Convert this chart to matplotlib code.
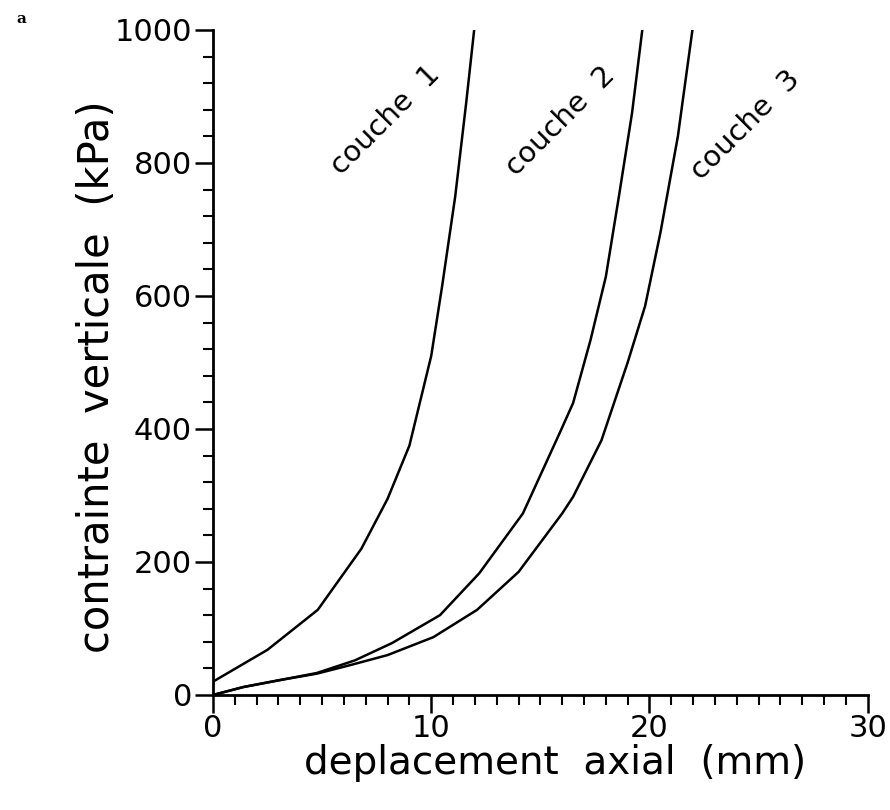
import matplotlib.pyplot as plt
from matplotlib.ticker import MultipleLocator

# deplacement axial (mm) / contrainte verticale (kPa)
X1 = [0, 2.5, 4.8, 6.8, 8.0, 9.0, 10.0, 10.5, 11.1, 11.6, 12.0]
Y1 = [20, 68, 128, 220, 295, 375, 510, 615, 750, 890, 1010]

X2 = [0, 1.4, 3.0, 4.75, 6.5, 8.2, 10.4, 12.2, 14.2, 15.9, 16.5, 17.3, 18.0, 18.6, 19.2, 19.7]
Y2 = [0, 12, 22, 33, 52, 78, 120, 183, 273, 395, 439, 534, 629, 750, 875, 1008]

X3 = [0, 1.4, 3.0, 4.75, 6.3, 8.0, 10.1, 12.1, 14.0, 16.0, 16.5, 17.8, 19.0, 19.8, 20.5, 21.3, 22.0]
Y3 = [0, 12, 22, 32, 45, 60, 87, 128, 185, 273, 298, 383, 500, 585, 695, 840, 1008]

LABELS = ["couche  1", "couche  2", "couche  3"]
LABEL_POS = [(7.9, 865), (15.9, 863), (24.4, 857)]

plt.rcParams["font.family"] = "DejaVu Sans"

fig = plt.figure(figsize=(8.9, 8.1), dpi=100)
ax = fig.add_axes([0.2393, 0.142, 0.7357, 0.821])

for xs, ys in [(X1, Y1), (X2, Y2), (X3, Y3)]:
    ax.plot(xs, ys, color="black", lw=1.8)

for text, (tx, ty) in zip(LABELS, LABEL_POS):
    ax.text(tx, ty, text, rotation=45, rotation_mode="anchor",
            ha="center", va="center", fontsize=21)

ax.set_xlim(0, 30)
ax.set_ylim(0, 1000)

ax.spines["top"].set_visible(False)
ax.spines["right"].set_visible(False)
ax.spines["left"].set_linewidth(2)
ax.spines["bottom"].set_linewidth(2)

ax.xaxis.set_major_locator(MultipleLocator(10))
ax.xaxis.set_minor_locator(MultipleLocator(1))
ax.yaxis.set_major_locator(MultipleLocator(200))
ax.yaxis.set_minor_locator(MultipleLocator(40))

ax.tick_params(which="major", direction="out", length=13, width=1.8, labelsize=22)
ax.tick_params(which="minor", direction="out", length=7, width=1.5)
ax.tick_params(axis="x", pad=1)
ax.tick_params(axis="y", pad=2)

ax.set_xlabel("deplacement  axial  (mm)", fontsize=28)
ax.set_ylabel("contrainte  verticale  (kPa)", fontsize=30)
ax.xaxis.set_label_coords(0.522, -0.074)
ax.yaxis.set_label_coords(-0.145, 0.478)

fig.text(0.018, 0.985, "a", fontsize=11, fontweight="bold",
         family="DejaVu Serif", va="top")

fig.savefig("out.png", dpi=100)
plt.close(fig)
